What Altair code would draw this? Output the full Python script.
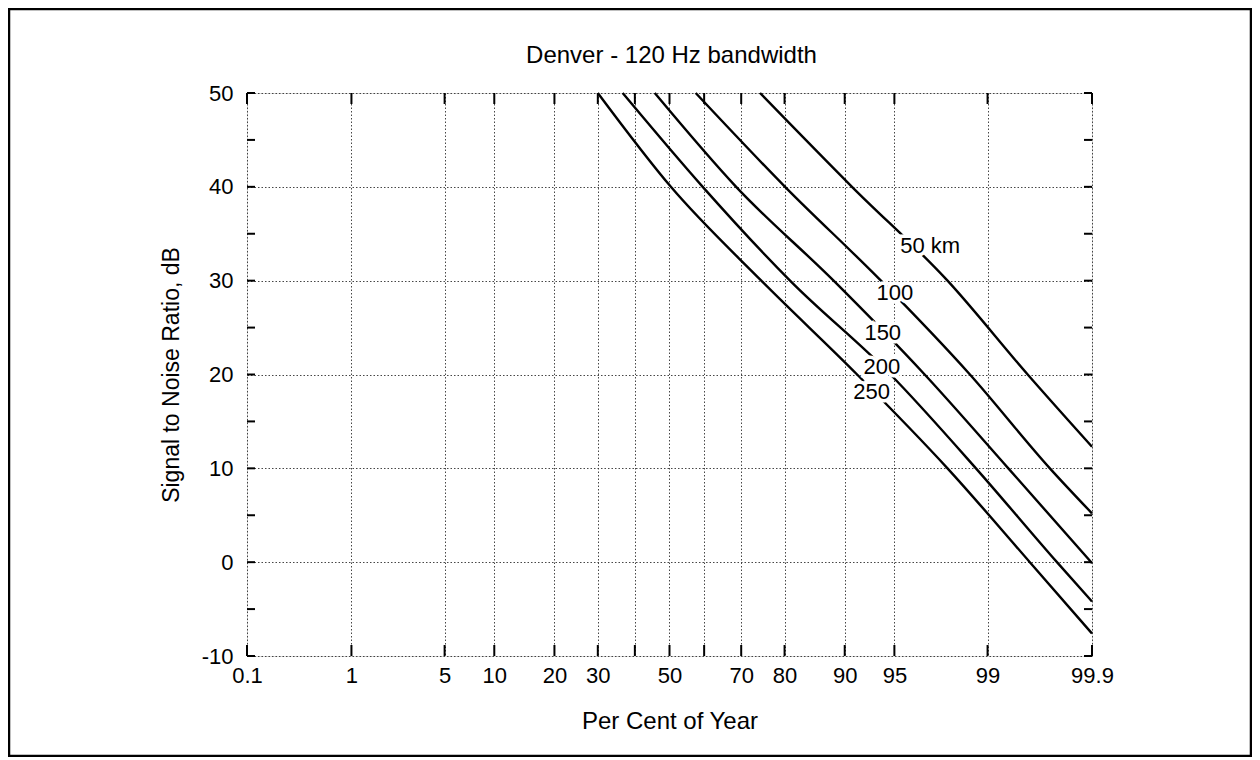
import altair as alt
import pandas as pd
from statistics import NormalDist

# ---------------- text ----------------
chart_title = "Denver - 120 Hz bandwidth"
x_title = "Per Cent of Year"
y_title = "Signal to Noise Ratio, dB"

# ---------------- axes ----------------
x_tick_pcts = [0.1, 1, 5, 10, 20, 30, 40, 50, 60, 70, 80, 90, 95, 99, 99.9]
x_unlabeled = [40, 60]
y_grid = [-10, 0, 10, 20, 30, 40, 50]
y_minor = [-10, -5, 0, 5, 10, 15, 20, 25, 30, 35, 40, 45, 50]

# ---------------- series (percent of year, S/N dB) ----------------
series_names = ["50 km", "100", "150", "200", "250"]
pct_50 = [74.6, 90.9, 97.9, 99.56, 99.9]
snr_50 = [50, 40, 30, 20, 12.3]
pct_100 = [57.6, 80.1, 93.9, 98.6, 99.73, 99.9]
snr_100 = [50, 40, 30, 20, 10, 5.2]
pct_150 = [45.7, 68.7, 88.5, 96.9, 99.34, 99.9]
snr_150 = [50, 40, 30, 20, 10, -0.1]
pct_200 = [36.6, 59.6, 81.1, 94.7, 98.75, 99.77, 99.9]
snr_200 = [50, 40, 30, 20, 10, 0, -4.2]
pct_250 = [30.0, 50.4, 74.9, 91.5, 97.9, 99.58, 99.9]
snr_250 = [50, 40, 30, 20, 10, 0, -7.6]

# curve labels
label_pct = [97.17, 95.03, 94.06, 93.98, 93.04]
label_snr = [33.7, 28.7, 24.4, 20.8, 18.1]

# ---------------- build tables ----------------
rows = []
for name, ps, vs in zip(series_names,
                        [pct_50, pct_100, pct_150, pct_200, pct_250],
                        [snr_50, snr_100, snr_150, snr_200, snr_250]):
    for i, (p, v) in enumerate(zip(ps, vs)):
        rows.append({"series": name, "order": i, "p": p, "snr": v})
lines_df = pd.DataFrame(rows)
labels_df = pd.DataFrame({"series": series_names, "p": label_pct, "snr": label_snr})
xt_df = pd.DataFrame({"p": x_tick_pcts})
yt_df = pd.DataFrame({"snr": y_minor})
title_df = pd.DataFrame({"t": [chart_title]})

nd = NormalDist()
z_ticks = [nd.inv_cdf(p / 100.0) for p in x_tick_pcts]
z_lo, z_hi = z_ticks[0], z_ticks[-1]

FONT = "Liberation Sans"
probit = "quantileNormal(datum.p / 100)"

W, H = 845, 563

x_scale = alt.Scale(domain=[z_lo, z_hi], nice=False, zero=False)
y_scale = alt.Scale(domain=[-10, 50], nice=False, zero=False)

label_expr = (
    "indexof(" + str(x_unlabeled) + ", round(cumulativeNormal(datum.value) * 1000) / 10) >= 0"
    " ? '' : '' + round(cumulativeNormal(datum.value) * 1000) / 10"
)

x_axis = alt.Axis(
    values=z_ticks, labelExpr=label_expr, grid=True, ticks=False, domain=False,
    labelFont=FONT, labelFontSize=22, labelColor="black", labelPadding=9,
    labelFlush=False, labelOverlap=False,
    title=x_title, titleFont=FONT, titleFontSize=24, titleFontWeight="normal",
    titleColor="black", titleY=72, titleBaseline="alphabetic",
    gridColor="#333333", gridDash=[1.5, 2], gridWidth=1, gridOpacity=0.9,
)
y_axis = alt.Axis(
    values=y_grid, grid=True, ticks=False, domain=False,
    labelExpr="'' + datum.value",
    labelFont=FONT, labelFontSize=22, labelColor="black", labelPadding=14,
    labelFlush=False,
    title=y_title, titleFont=FONT, titleFontSize=23, titleFontWeight="normal",
    titleColor="black", titleX=-69, titleBaseline="alphabetic",
    gridColor="#333333", gridDash=[1.5, 2], gridWidth=1, gridOpacity=0.9,
)

X = alt.X("z:Q", scale=x_scale, axis=x_axis)
Y = alt.Y("snr:Q", scale=y_scale, axis=y_axis)

lines = alt.Chart(lines_df).transform_calculate(z=probit).mark_line(
    color="black", strokeWidth=2.4, interpolate="monotone"
).encode(x=X, y=Y, detail="series:N", order="order:Q")

mask = alt.Chart(labels_df).transform_calculate(z=probit).mark_text(
    font=FONT, fontSize=22, align="center", baseline="middle",
    stroke="white", strokeWidth=7, fill="white"
).encode(x=alt.X("z:Q", scale=x_scale), y=alt.Y("snr:Q", scale=y_scale), text="series:N")

labels = alt.Chart(labels_df).transform_calculate(z=probit).mark_text(
    font=FONT, fontSize=22, align="center", baseline="middle", color="black"
).encode(x=alt.X("z:Q", scale=x_scale), y=alt.Y("snr:Q", scale=y_scale), text="series:N")

xt_bottom = alt.Chart(xt_df).transform_calculate(z=probit).mark_rule(
    color="black", strokeWidth=2
).encode(x=alt.X("z:Q", scale=x_scale), y=alt.value(H), y2=alt.value(H - 11))
xt_top = alt.Chart(xt_df).transform_calculate(z=probit).mark_rule(
    color="black", strokeWidth=2
).encode(x=alt.X("z:Q", scale=x_scale), y=alt.value(0), y2=alt.value(11))

yt_left = alt.Chart(yt_df).mark_rule(color="black", strokeWidth=2).encode(
    y=alt.Y("snr:Q", scale=y_scale), x=alt.value(0), x2=alt.value(8))
yt_right = alt.Chart(yt_df).mark_rule(color="black", strokeWidth=2).encode(
    y=alt.Y("snr:Q", scale=y_scale), x=alt.value(W), x2=alt.value(W - 8))

frame = alt.Chart(pd.DataFrame({"k": [0]})).mark_rect(
    filled=False, stroke="black", strokeWidth=2.5
).encode(x=alt.value(-238), x2=alt.value(1004), y=alt.value(-84), y2=alt.value(663))

title_mark = alt.Chart(title_df).mark_text(
    font=FONT, fontSize=24, align="center", baseline="alphabetic", color="black"
).encode(x=alt.value(W / 2 + 2), y=alt.value(-30), text="t:N")

chart = alt.layer(
    lines, mask, labels, xt_bottom, xt_top, yt_left, yt_right, frame, title_mark
).properties(
    width=W, height=H,
    padding={"left": 239, "top": 85, "right": 160, "bottom": 101},
    autosize=alt.AutoSizeParams(type="none"),
).configure_view(
    stroke="black", strokeWidth=2.5
).configure(background="white")

chart.save("out.html", embed_options={"renderer": "svg", "actions": False})
